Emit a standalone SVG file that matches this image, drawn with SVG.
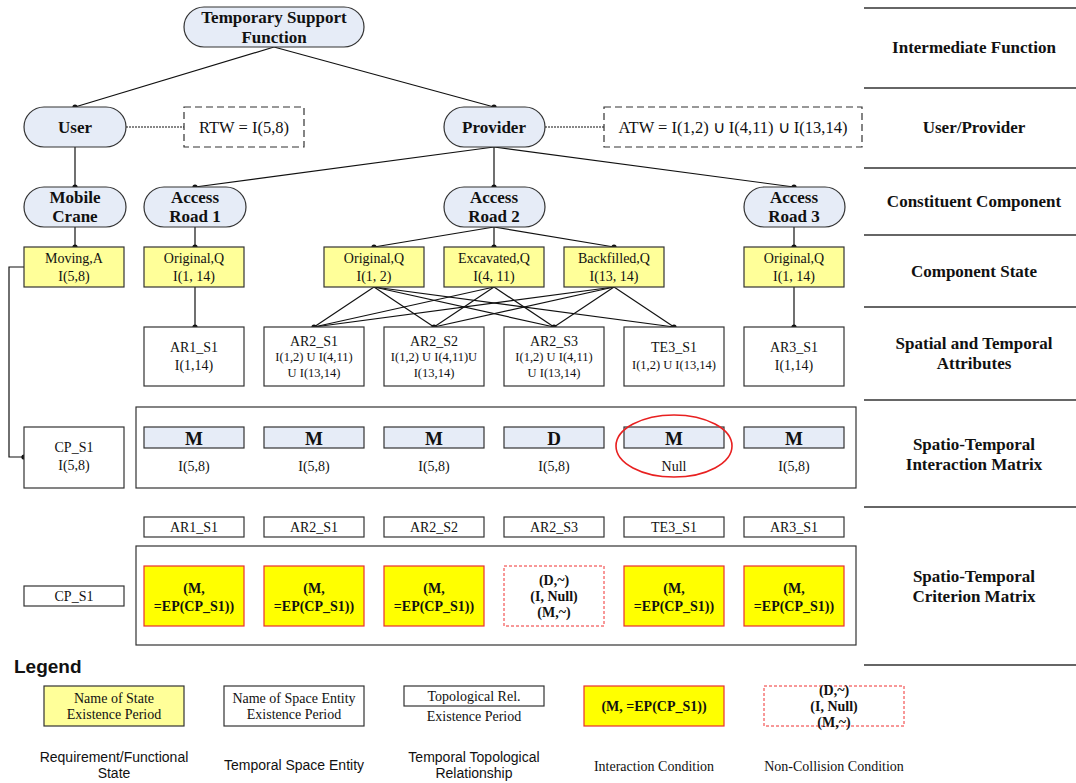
<svg xmlns="http://www.w3.org/2000/svg" width="1076" height="783" viewBox="0 0 1076 783">
  <style>
    .node { fill: #E6ECF7; stroke: #333; stroke-width: 1.2; }
    .state { fill: #FFFF99; stroke: #333; stroke-width: 1.2; }
    .box { fill: #fff; stroke: #333; stroke-width: 1.2; }
    .cell { fill: #E6ECF7; stroke: #333; stroke-width: 1.2; }
    .cond { fill: #FFFF00; stroke: #E83030; stroke-width: 1.2; }
    .nc { fill: #fff; stroke: #F03030; stroke-width: 1; stroke-dasharray: 3 2; }
    .dash { fill: #fff; stroke: #333; stroke-width: 1.2; stroke-dasharray: 7 4; }
    .ln { stroke: #111; stroke-width: 1.2; fill: none; }
    .dot { fill: #111; }
    .sep { stroke: #333; stroke-width: 1.5; }
    text { font-family: "Liberation Serif", "Times New Roman", serif; fill: #111; text-anchor: middle; dominant-baseline: central; }
    .b16 { font-size: 17px; font-weight: bold; }
    .t16 { font-size: 16.5px; }
    .t14 { font-size: 14px; }
    .t13 { font-size: 14px; }
    .t12 { font-size: 12.5px; }
    .m { font-size: 19px; font-weight: bold; }
    .c13 { font-size: 14px; font-weight: bold; }
    .sans { font-family: "Liberation Sans", Arial, sans-serif; font-size: 14px; }
  </style>

  <!-- level separators and titles on the right -->
  <g id="levels">
    <line class="sep" x1="864" y1="8" x2="1076" y2="8"/>
    <line class="sep" x1="864" y1="88" x2="1076" y2="88"/>
    <line class="sep" x1="864" y1="168" x2="1076" y2="168"/>
    <line class="sep" x1="864" y1="235" x2="1076" y2="235"/>
    <line class="sep" x1="864" y1="307" x2="1076" y2="307"/>
    <line class="sep" x1="864" y1="400" x2="1076" y2="400"/>
    <line class="sep" x1="864" y1="507" x2="1076" y2="507"/>
    <line class="sep" x1="864" y1="665" x2="1076" y2="665"/>
    <text class="b16" x="974" y="47">Intermediate Function</text>
    <text class="b16" x="974" y="127">User/Provider</text>
    <text class="b16" x="974" y="201">Constituent Component</text>
    <text class="b16" x="974" y="271">Component State</text>
    <text class="b16" x="974" y="343">Spatial and Temporal</text>
    <text class="b16" x="974" y="363">Attributes</text>
    <text class="b16" x="974" y="444">Spatio-Temporal</text>
    <text class="b16" x="974" y="464">Interaction Matrix</text>
    <text class="b16" x="974" y="576">Spatio-Temporal</text>
    <text class="b16" x="974" y="596">Criterion Matrix</text>
  </g>

  <!-- connectors -->
  <g id="connectors">
    <line class="ln" x1="274" y1="47" x2="75" y2="107"/>
    <line class="ln" x1="274" y1="47" x2="494" y2="107"/>
    <line class="ln" x1="126" y1="127" x2="184" y2="127" stroke-dasharray="2 1"/>
    <line class="ln" x1="545" y1="127" x2="604" y2="127" stroke-dasharray="2 1"/>
    <line class="ln" x1="75" y1="147" x2="75" y2="187"/>
    <line class="ln" x1="494" y1="147" x2="195" y2="187"/>
    <line class="ln" x1="494" y1="147" x2="494" y2="187"/>
    <line class="ln" x1="494" y1="147" x2="794" y2="187"/>
    <line class="ln" x1="75" y1="227" x2="75" y2="247"/>
    <line class="ln" x1="195" y1="227" x2="195" y2="247"/>
    <line class="ln" x1="494" y1="227" x2="374" y2="247"/>
    <line class="ln" x1="494" y1="227" x2="494" y2="247"/>
    <line class="ln" x1="494" y1="227" x2="614" y2="247"/>
    <line class="ln" x1="794" y1="227" x2="794" y2="247"/>
    <line class="ln" x1="195" y1="287" x2="195" y2="327"/>
    <line class="ln" x1="794" y1="287" x2="794" y2="327"/>
    <!-- component states to road-2 segments -->
    <line class="ln" x1="374" y1="287" x2="314" y2="327"/>
    <line class="ln" x1="374" y1="287" x2="434" y2="327"/>
    <line class="ln" x1="374" y1="287" x2="554" y2="327"/>
    <line class="ln" x1="374" y1="287" x2="674" y2="327"/>
    <line class="ln" x1="494" y1="287" x2="314" y2="327"/>
    <line class="ln" x1="494" y1="287" x2="434" y2="327"/>
    <line class="ln" x1="494" y1="287" x2="554" y2="327"/>
    <line class="ln" x1="614" y1="287" x2="314" y2="327"/>
    <line class="ln" x1="614" y1="287" x2="434" y2="327"/>
    <line class="ln" x1="614" y1="287" x2="554" y2="327"/>
    <line class="ln" x1="614" y1="287" x2="674" y2="327"/>
    <!-- moving crane state to its space entity -->
    <polyline class="ln" points="24,267 9,267 9,457 24,457"/>
    <circle class="dot" cx="75" cy="107" r="2.6"/>
    <circle class="dot" cx="494" cy="107" r="2.6"/>
    <circle class="dot" cx="75" cy="187" r="2.6"/>
    <circle class="dot" cx="195" cy="187" r="2.6"/>
    <circle class="dot" cx="494" cy="187" r="2.6"/>
    <circle class="dot" cx="794" cy="187" r="2.6"/>
    <circle class="dot" cx="75" cy="247" r="2.6"/>
    <circle class="dot" cx="195" cy="247" r="2.6"/>
    <circle class="dot" cx="374" cy="247" r="2.6"/>
    <circle class="dot" cx="494" cy="247" r="2.6"/>
    <circle class="dot" cx="614" cy="247" r="2.6"/>
    <circle class="dot" cx="794" cy="247" r="2.6"/>
    <circle class="dot" cx="195" cy="327" r="2.6"/>
    <circle class="dot" cx="314" cy="327" r="2.6"/>
    <circle class="dot" cx="434" cy="327" r="2.6"/>
    <circle class="dot" cx="554" cy="327" r="2.6"/>
    <circle class="dot" cx="674" cy="327" r="2.6"/>
    <circle class="dot" cx="794" cy="327" r="2.6"/>
    <circle class="dot" cx="24" cy="457" r="2.6"/>
  </g>

  <!-- function hierarchy -->
  <g id="tsf"><rect class="node" x="184" y="7" width="180" height="40" rx="20"/>
    <text class="b16" x="274" y="17">Temporary Support</text><text class="b16" x="274" y="37">Function</text></g>
  <g id="user"><rect class="node" x="24" y="107" width="102" height="40" rx="20"/>
    <text class="b16" x="75" y="127">User</text></g>
  <g id="provider"><rect class="node" x="444" y="107" width="101" height="40" rx="20"/>
    <text class="b16" x="494" y="127">Provider</text></g>
  <g id="rtw"><rect class="dash" x="184" y="107" width="120" height="40"/>
    <text class="t16" x="244" y="127">RTW = I(5,8)</text></g>
  <g id="atw"><rect class="dash" x="604" y="107" width="258" height="40"/>
    <text class="t16" x="733" y="127">ATW = I(1,2) ∪ I(4,11) ∪ I(13,14)</text></g>

  <g id="mobile-crane"><rect class="node" x="24" y="187" width="102" height="40" rx="20"/>
    <text class="b16" x="75" y="197">Mobile</text><text class="b16" x="75" y="216">Crane</text></g>
  <g id="access-road-1"><rect class="node" x="144" y="187" width="102" height="40" rx="20"/>
    <text class="b16" x="195" y="197">Access</text><text class="b16" x="195" y="216">Road 1</text></g>
  <g id="access-road-2"><rect class="node" x="444" y="187" width="101" height="40" rx="20"/>
    <text class="b16" x="494" y="197">Access</text><text class="b16" x="494" y="216">Road 2</text></g>
  <g id="access-road-3"><rect class="node" x="744" y="187" width="101" height="40" rx="20"/>
    <text class="b16" x="794" y="197">Access</text><text class="b16" x="794" y="216">Road 3</text></g>

  <!-- component states -->
  <g id="state-moving"><rect class="state" x="24" y="247" width="100" height="40"/>
    <text class="t14" x="74" y="258">Moving,A</text><text class="t14" x="74" y="276">I(5,8)</text></g>
  <g id="state-ar1"><rect class="state" x="144" y="247" width="100" height="40"/>
    <text class="t14" x="194" y="258">Original,Q</text><text class="t14" x="194" y="276">I(1, 14)</text></g>
  <g id="state-ar2-original"><rect class="state" x="324" y="247" width="100" height="40"/>
    <text class="t14" x="374" y="258">Original,Q</text><text class="t14" x="374" y="276">I(1, 2)</text></g>
  <g id="state-ar2-excavated"><rect class="state" x="444" y="247" width="100" height="40"/>
    <text class="t14" x="494" y="258">Excavated,Q</text><text class="t14" x="494" y="276">I(4, 11)</text></g>
  <g id="state-ar2-backfilled"><rect class="state" x="564" y="247" width="100" height="40"/>
    <text class="t14" x="614" y="258">Backfilled,Q</text><text class="t14" x="614" y="276">I(13, 14)</text></g>
  <g id="state-ar3"><rect class="state" x="744" y="247" width="100" height="40"/>
    <text class="t14" x="794" y="258">Original,Q</text><text class="t14" x="794" y="276">I(1, 14)</text></g>

  <!-- space entities -->
  <g id="ar1-s1"><rect class="box" x="144" y="327" width="100" height="59"/>
    <text class="t14" x="194" y="347">AR1_S1</text><text class="t14" x="194" y="365">I(1,14)</text></g>
  <g id="ar2-s1"><rect class="box" x="264" y="327" width="100" height="59"/>
    <text class="t14" x="314" y="341">AR2_S1</text><text class="t12" x="314" y="357">I(1,2) U I(4,11)</text><text class="t12" x="314" y="373">U I(13,14)</text></g>
  <g id="ar2-s2"><rect class="box" x="384" y="327" width="100" height="59"/>
    <text class="t14" x="434" y="341">AR2_S2</text><text class="t12" x="434" y="357">I(1,2) U I(4,11)U</text><text class="t12" x="434" y="373">I(13,14)</text></g>
  <g id="ar2-s3"><rect class="box" x="504" y="327" width="100" height="59"/>
    <text class="t14" x="554" y="341">AR2_S3</text><text class="t12" x="554" y="357">I(1,2) U I(4,11)</text><text class="t12" x="554" y="373">U I(13,14)</text></g>
  <g id="te3-s1"><rect class="box" x="624" y="327" width="100" height="59"/>
    <text class="t14" x="674" y="347">TE3_S1</text><text class="t12" x="674" y="365">I(1,2) U I(13,14)</text></g>
  <g id="ar3-s1"><rect class="box" x="744" y="327" width="100" height="59"/>
    <text class="t14" x="794" y="347">AR3_S1</text><text class="t14" x="794" y="365">I(1,14)</text></g>

  <!-- interaction matrix -->
  <g id="cp-s1"><rect class="box" x="24" y="427" width="100" height="61"/>
    <text class="t14" x="74" y="447">CP_S1</text><text class="t14" x="74" y="465">I(5,8)</text></g>
  <g id="interaction-matrix">
    <rect class="box" x="136" y="407" width="720" height="81"/>
    <rect class="cell" x="144" y="427" width="100" height="21"/><text class="m" x="194" y="438">M</text><text class="t13" x="194" y="466">I(5,8)</text>
    <rect class="cell" x="264" y="427" width="100" height="21"/><text class="m" x="314" y="438">M</text><text class="t13" x="314" y="466">I(5,8)</text>
    <rect class="cell" x="384" y="427" width="100" height="21"/><text class="m" x="434" y="438">M</text><text class="t13" x="434" y="466">I(5,8)</text>
    <rect class="cell" x="504" y="427" width="100" height="21"/><text class="m" x="554" y="438">D</text><text class="t13" x="554" y="466">I(5,8)</text>
    <rect class="cell" x="624" y="427" width="100" height="21"/><text class="m" x="674" y="438">M</text><text class="t13" x="674" y="466">Null</text>
    <rect class="cell" x="744" y="427" width="100" height="21"/><text class="m" x="794" y="438">M</text><text class="t13" x="794" y="466">I(5,8)</text>
    <ellipse cx="674" cy="446" rx="58" ry="31" fill="none" stroke="#E82020" stroke-width="1.6"/>
  </g>

  <!-- criterion matrix -->
  <g id="column-heads">
    <rect class="box" x="144" y="517" width="100" height="20"/><text class="t14" x="194" y="527">AR1_S1</text>
    <rect class="box" x="264" y="517" width="100" height="20"/><text class="t14" x="314" y="527">AR2_S1</text>
    <rect class="box" x="384" y="517" width="100" height="20"/><text class="t14" x="434" y="527">AR2_S2</text>
    <rect class="box" x="504" y="517" width="100" height="20"/><text class="t14" x="554" y="527">AR2_S3</text>
    <rect class="box" x="624" y="517" width="100" height="20"/><text class="t14" x="674" y="527">TE3_S1</text>
    <rect class="box" x="744" y="517" width="100" height="20"/><text class="t14" x="794" y="527">AR3_S1</text>
  </g>
  <g id="cp-s1-row"><rect class="box" x="24" y="586" width="100" height="20"/><text class="t14" x="74" y="596">CP_S1</text></g>
  <g id="criterion-matrix">
    <rect class="box" x="136" y="546" width="720" height="99"/>
    <rect class="cond" x="144" y="566" width="100" height="60"/><text class="c13" x="194" y="588">(M,</text><text class="c13" x="194" y="606">=EP(CP_S1))</text>
    <rect class="cond" x="264" y="566" width="100" height="60"/><text class="c13" x="314" y="588">(M,</text><text class="c13" x="314" y="606">=EP(CP_S1))</text>
    <rect class="cond" x="384" y="566" width="100" height="60"/><text class="c13" x="434" y="588">(M,</text><text class="c13" x="434" y="606">=EP(CP_S1))</text>
    <rect class="nc" x="504" y="566" width="100" height="60"/><text class="c13" x="554" y="580">(D,~)</text><text class="c13" x="554" y="596">(I, Null)</text><text class="c13" x="554" y="612">(M,~)</text>
    <rect class="cond" x="624" y="566" width="100" height="60"/><text class="c13" x="674" y="588">(M,</text><text class="c13" x="674" y="606">=EP(CP_S1))</text>
    <rect class="cond" x="744" y="566" width="100" height="60"/><text class="c13" x="794" y="588">(M,</text><text class="c13" x="794" y="606">=EP(CP_S1))</text>
  </g>

  <!-- legend -->
  <g id="legend">
    <text x="14" y="666" style="font-family:'Liberation Sans',Arial,sans-serif;font-size:19px;font-weight:bold;text-anchor:start">Legend</text>
    <rect class="state" x="44" y="686" width="140" height="40"/>
    <text class="t13" x="114" y="698">Name of State</text><text class="t13" x="114" y="714">Existence Period</text>
    <rect class="box" x="224" y="686" width="140" height="40"/>
    <text class="t13" x="294" y="698">Name of Space Entity</text><text class="t13" x="294" y="714">Existence Period</text>
    <rect class="box" x="404" y="686" width="140" height="20"/>
    <text class="t13" x="474" y="696">Topological Rel.</text><text class="t13" x="474" y="716">Existence Period</text>
    <rect class="cond" x="584" y="686" width="140" height="40"/>
    <text class="c13" x="654" y="706">(M, =EP(CP_S1))</text>
    <rect class="nc" x="764" y="686" width="140" height="40"/>
    <text class="c13" x="834" y="690">(D,~)</text><text class="c13" x="834" y="706">(I, Null)</text><text class="c13" x="834" y="722">(M,~)</text>
    <text class="sans" x="114" y="757">Requirement/Functional</text><text class="sans" x="114" y="773">State</text>
    <text class="sans" x="294" y="765">Temporal Space Entity</text>
    <text class="sans" x="474" y="757">Temporal Topological</text><text class="sans" x="474" y="773">Relationship</text>
    <text class="t14" x="654" y="766">Interaction Condition</text>
    <text class="t14" x="834" y="766">Non-Collision Condition</text>
  </g>
</svg>
